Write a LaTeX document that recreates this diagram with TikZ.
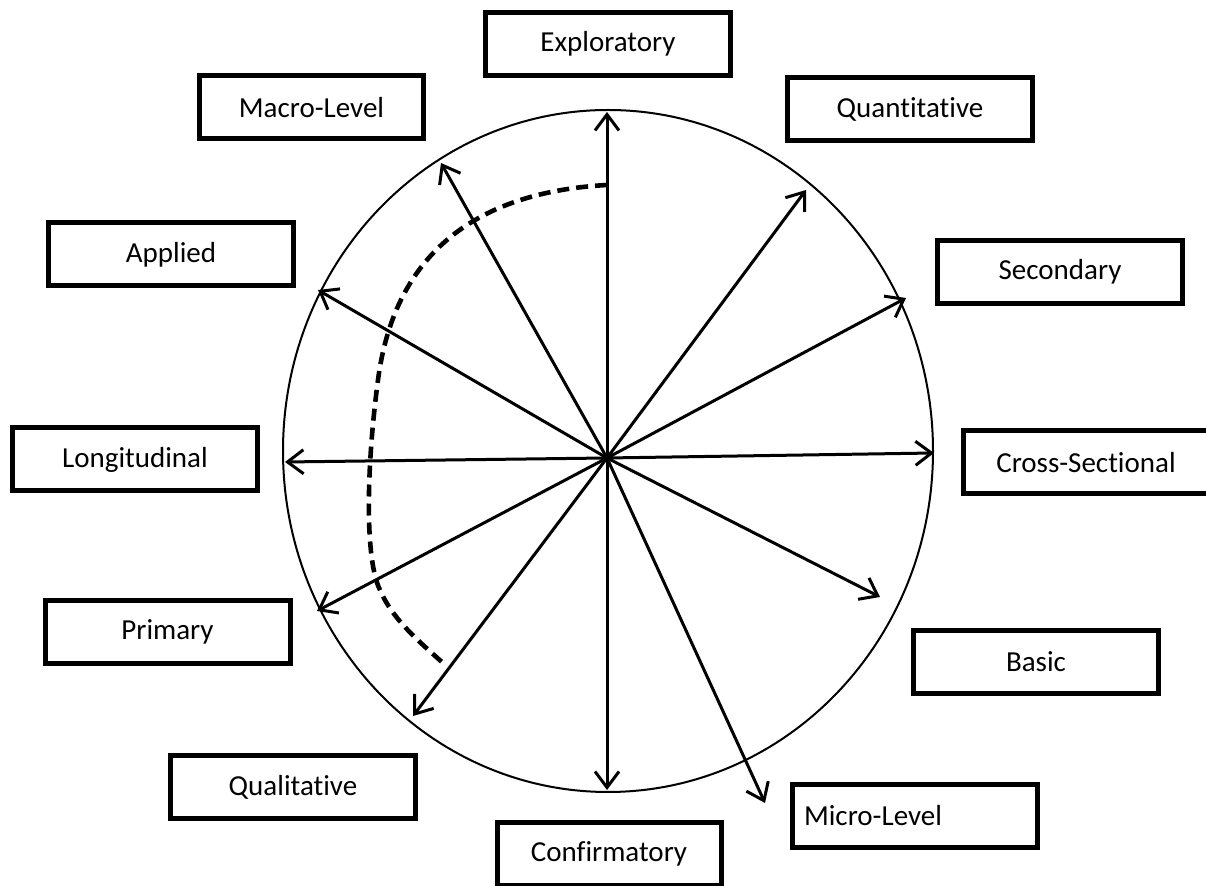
\documentclass[tikz,border=0pt]{standalone}
\usepackage{fontspec}
\setmainfont{Carlito}[Ligatures={NoCommon}]
\usetikzlibrary{arrows.meta}
\tikzset{
  lbl/.style={draw=black, line width=2.5pt, fill=white, minimum width=122.5pt, minimum height=31.5pt, inner sep=0pt, font=\fontsize{14.5}{17}\selectfont},
  narrow/.style={minimum width=112pt},
  ray/.style={line width=1.5pt, -{Straight Barb[length=8pt,width=12pt,line width=1.5pt]}},
  rim/.style={line width=1pt},
  dashcurve/.style={line width=2.3pt, dash pattern=on 6pt off 3.5pt}
}
\begin{document}
\begin{tikzpicture}[x=0.5pt,y=-0.5pt]
\useasboundingbox (0,0) rectangle (1206,886);
\begin{scope}
\clip (0,0) rectangle (1206,886);
% rim
\draw[rim] (608,451) ellipse [x radius=162.5pt, y radius=170.5pt];
% centre and ray ends
\coordinate (c) at (607,458);
\coordinate (eExp) at (607,112);
\coordinate (eQua) at (806,190);
\coordinate (eSec) at (906,298);
\coordinate (eCro) at (934,453);
\coordinate (eBas) at (880,597);
\coordinate (eMic) at (765,803);
\coordinate (eCon) at (607,790);
\coordinate (eQul) at (413,716);
\coordinate (ePri) at (317,611);
\coordinate (eLon) at (285,462);
\coordinate (eApp) at (318,290);
\coordinate (eMac) at (441,163);
\foreach \e in {eExp,eQua,eSec,eCro,eBas,eMic,eCon,eQul,ePri,eLon,eApp,eMac}
  \draw[ray] (c) -- (\e);
% dashed curve
\coordinate (d0) at (607,185);
\coordinate (d1) at (443,663);
\draw[dashcurve] (d0) .. controls (480,192) and (395,250) .. (378,380)
  .. controls (366,470) and (365,560) .. (380,590)
  .. controls (392,618) and (415,638) .. (d1);
% boxes
\node[lbl] (exploratory) at (608,44) {Exploratory};
\node[lbl,narrow] (macro) at (311.5,107.5) {Macro-Level};
\node[lbl] (quantitative) at (910,109) {Quantitative};
\node[lbl] (applied) at (171,254.5) {Applied};
\node[lbl] (secondary) at (1060,272) {Secondary};
\node[lbl] (longitudinal) at (135,459.5) {Longitudinal};
\node[lbl] (cross) at (1086,462.5) {Cross-Sectional};
\node[lbl] (primary) at (167.5,632) {Primary};
\node[lbl] (basic) at (1036,662) {Basic};
\node[lbl] (qualitative) at (293,787.5) {Qualitative};
\node[lbl] (micro) at (915,816) {\hspace*{-21pt}Micro-Level\hspace*{21pt}};
\node[lbl,narrow] (confirmatory) at (609,854) {Confirmatory};
\end{scope}
\end{tikzpicture}
\end{document}
